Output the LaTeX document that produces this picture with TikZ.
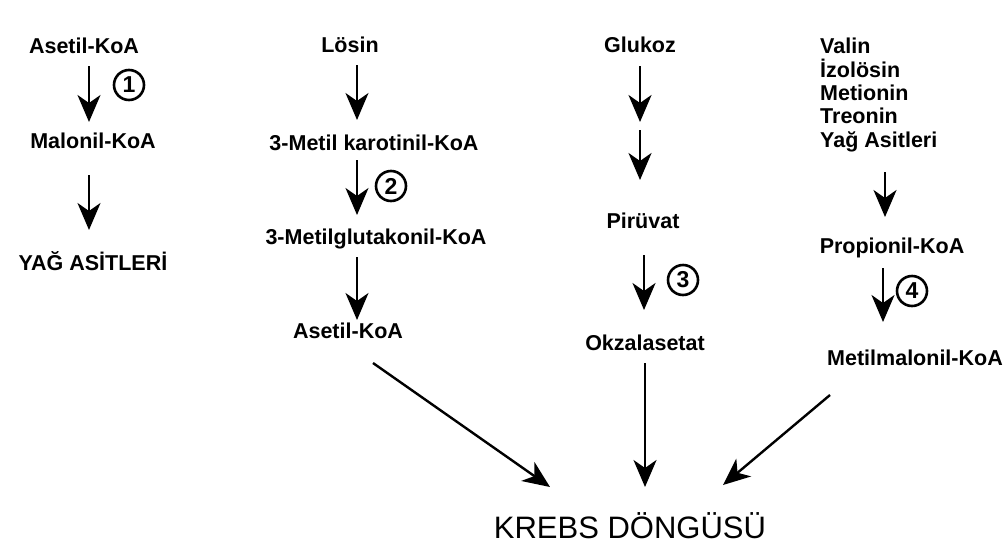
\documentclass[tikz,border=0pt]{standalone}
\usepackage{fontspec}
\setmainfont{Liberation Sans}
\usetikzlibrary{arrows.meta,calc}
\begin{document}
\begin{tikzpicture}[x=1pt,y=-1pt,
 lbl/.style={font=\fontsize{21.5}{23.5}\selectfont\bfseries, inner sep=0pt, anchor=base},
 lbll/.style={lbl, anchor=base west},
 arr/.style={line width=2.4pt, -{Stealth[length=27pt,width=23pt,inset=8pt]}},
 num/.style={circle, draw, line width=2.6pt, minimum size=30pt, inner sep=0pt, font=\fontsize{23}{23}\selectfont\bfseries},
 krebs/.style={font=\fontsize{31}{31}\selectfont, inner sep=0pt, anchor=base}]
\useasboundingbox (0,0) rectangle (1008,544);
% column 1
\node[lbl] (a1) at (84,53) {Asetil-KoA};
\node[lbl] (m1) at (93,148) {Malonil-KoA};
\node[lbl] (y1) at (93,270) {YAĞ ASİTLERİ};
\node[num] (n1) at (129,85) {1};
\draw[arr] ($(a1.base)+(5,13)$) -- ($(m1.base)+(-4,-26)$);
\draw[arr] ($(m1.base)+(-4,27)$) -- ($(y1.base)+(-4,-40)$);
% column 2
\node[lbl] (l2) at (350,52) {Lösin};
\node[lbl] (k2) at (374,150) {3-Metil karotinil-KoA};
\node[lbl] (g2) at (376,244) {3-Metilglutakonil-KoA};
\node[lbl] (a2) at (348,338) {Asetil-KoA};
\node[num] (n2) at (391,186) {2};
\draw[arr] ($(l2.base)+(7,13)$) -- ($(k2.base)+(-17,-30)$);
\draw[arr] ($(k2.base)+(-17,10)$) -- ($(g2.base)+(-19,-29)$);
\draw[arr] ($(g2.base)+(-19,13)$) -- ($(a2.base)+(9,-18)$);
% column 3
\node[lbl] (gl) at (640,52) {Glukoz};
\coordinate (gmid) at (640,126);
\node[lbl] (p3) at (643,228) {Pirüvat};
\node[lbl] (o3) at (645,350) {Okzalasetat};
\node[num] (n3) at (683,280) {3};
\draw[arr] ($(gl.base)+(0,14)$) -- ($(gmid)+(0,-4)$);
\draw[arr] ($(gmid)+(0,4)$) -- ($(p3.base)+(-3,-48)$);
\draw[arr] ($(p3.base)+(1,27)$) -- ($(o3.base)+(-1,-40)$);
% column 4
\node[lbll] (v1) at (820,53) {Valin};
\node[lbll] (v2) at (820,77) {İzolösin};
\node[lbll] (v3) at (820,100) {Metionin};
\node[lbll] (v4) at (820,123) {Treonin};
\node[lbll] (v5) at (820,147) {Yağ Asitleri};
\node[lbl] (pr) at (892,253) {Propionil-KoA};
\node[lbl] (mm) at (915,365) {Metilmalonil-KoA};
\node[num] (n4) at (912,291) {4};
\draw[arr] ($(v5.base west)+(65,25)$) -- ($(pr.base)+(-7,-36)$);
\draw[arr] ($(pr.base)+(-9,15)$) -- ($(mm.base)+(-32,-43)$);
% bottom
\node[krebs] (kr) at (630,538) {KREBS DÖNGÜSÜ};
\draw[arr] ($(a2.base)+(25,25)$) -- ($(kr.base)+(-80,-51)$);
\draw[arr] ($(o3.base)+(0,13)$) -- ($(kr.base)+(15,-51)$);
\draw[arr] ($(mm.base)+(-85,30)$) -- ($(kr.base)+(93,-53)$);
\end{tikzpicture}
\end{document}
